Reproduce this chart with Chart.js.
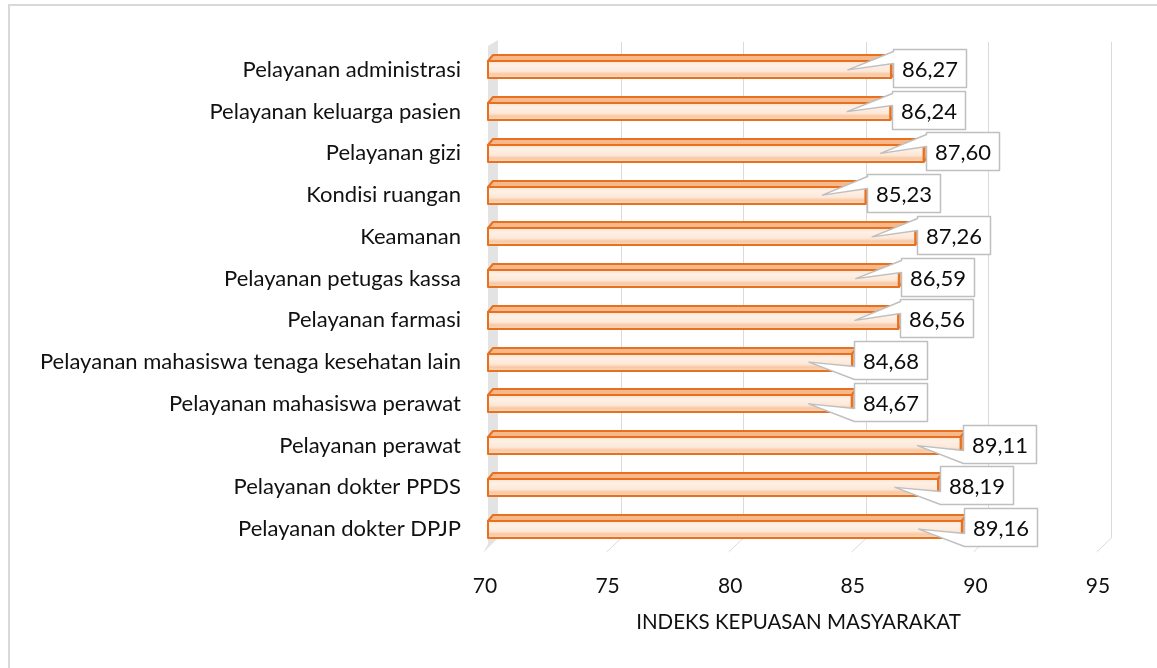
<!DOCTYPE html>
<html>
<head>
<meta charset="utf-8">
<script src="https://cdn.jsdelivr.net/npm/chart.js@4.4.0/dist/chart.umd.min.js"></script>
<style>
  html, body { margin: 0; padding: 0; background: #fff; }
  #wrap { width: 1157px; height: 668px; }
</style>
</head>
<body>
<div id="wrap"><canvas id="ikmChart" width="1157" height="668"></canvas></div>
<script>
const categories = [
    'Pelayanan administrasi',
    'Pelayanan keluarga pasien',
    'Pelayanan gizi',
    'Kondisi ruangan',
    'Keamanan',
    'Pelayanan petugas kassa',
    'Pelayanan farmasi',
    'Pelayanan mahasiswa tenaga kesehatan lain',
    'Pelayanan mahasiswa perawat',
    'Pelayanan perawat',
    'Pelayanan dokter PPDS',
    'Pelayanan dokter DPJP'
];
const scores = [86.27, 86.24, 87.60, 85.23, 87.26, 86.59, 86.56, 84.68, 84.67, 89.11, 88.19, 89.16];
const axisTicks = [70, 75, 80, 85, 90, 95];
const axisTitle = 'INDEKS KEPUASAN MASYARAKAT';

const FONT = 'Lato';
const TEXT = '#111111';
const ORANGE = '#e8711f';

// light frame around the whole chart
const framePlugin = {
    id: 'frame',
    beforeDraw(chart) {
        const { ctx } = chart;
        ctx.save();
        ctx.strokeStyle = '#d9d9d9';
        ctx.lineWidth = 2;
        ctx.strokeRect(9, 5, chart.width + 20, chart.height + 20);
        ctx.restore();
    }
};

// fake 3d look: back wall grid, side wall, boxed bars and callout labels
const bars3dPlugin = {
    id: 'bars3d',
    afterDatasetsDraw(chart) {
        const { ctx, chartArea: area } = chart;
        const x = chart.scales.x;
        const base = x.getPixelForValue(axisTicks[0]);
        ctx.save();

        // back wall grid lines with floor slant
        ctx.strokeStyle = '#dadada';
        ctx.lineWidth = 1;
        axisTicks.slice(1).forEach(v => {
            const px = Math.round(x.getPixelForValue(v) + 6) + 0.5;
            ctx.beginPath();
            ctx.moveTo(px, area.top - 7);
            ctx.lineTo(px, area.bottom - 12);
            ctx.lineTo(px - 15, area.bottom + 2);
            ctx.stroke();
        });

        // side wall
        ctx.fillStyle = '#e3e3e3';
        ctx.beginPath();
        ctx.moveTo(base - 4, area.top - 3);
        ctx.lineTo(base + 6, area.top - 9);
        ctx.lineTo(base + 6, area.bottom - 12);
        ctx.lineTo(base - 9, area.bottom + 3);
        ctx.lineTo(base - 4, area.bottom - 6);
        ctx.closePath();
        ctx.fill();

        const meta = chart.getDatasetMeta(0);
        const dx = 5, dy = 6;

        meta.data.forEach(bar => {
            const h = bar.height;
            const top = Math.round(bar.y - h / 2);
            const bot = Math.round(bar.y + h / 2);
            const left = base - 4;
            const right = bar.x;

            ctx.lineJoin = 'round';
            ctx.strokeStyle = ORANGE;
            ctx.lineWidth = 2;

            // top face
            ctx.beginPath();
            ctx.moveTo(left, top);
            ctx.lineTo(left + dx, top - dy);
            ctx.lineTo(right + dx, top - dy);
            ctx.lineTo(right, top);
            ctx.closePath();
            ctx.fillStyle = '#f7b98c';
            ctx.fill();
            ctx.stroke();

            // end face
            ctx.beginPath();
            ctx.moveTo(right, top);
            ctx.lineTo(right + dx, top - dy);
            ctx.lineTo(right + dx, bot - dy);
            ctx.lineTo(right, bot);
            ctx.closePath();
            ctx.fillStyle = '#f4a66c';
            ctx.fill();
            ctx.stroke();

            // front face
            const g = ctx.createLinearGradient(0, top, 0, bot);
            g.addColorStop(0, '#fde3cf');
            g.addColorStop(0.25, '#fef0e6');
            g.addColorStop(0.6, '#fde8d8');
            g.addColorStop(0.78, '#f9c7a2');
            g.addColorStop(1, '#fcdcc4');
            ctx.fillStyle = g;
            ctx.fillRect(left, top, right - left, bot - top);
            ctx.strokeRect(left, top, right - left, bot - top);
        });

        // callout labels
        ctx.font = `22px ${FONT}`;
        ctx.textAlign = 'center';
        ctx.textBaseline = 'middle';
        const mid = area.top + (area.bottom - area.top) * 0.58;
        meta.data.forEach((bar, i) => {
            const txt = scores[i].toFixed(2).replace('.', ',');
            const w = Math.round(ctx.measureText(txt).width + 17);
            const bh = 38;
            const bx = Math.round(bar.x + 2) + 0.5;
            const by = Math.round(bar.y - 2 - bh / 2) + 0.5;
            const tipX = bar.x - 43;
            const tipY = bar.y;
            const upper = bar.y < mid;
            const w1 = upper ? by + 2 : by + bh - 13;
            const w2 = upper ? by + 14 : by + bh;

            ctx.beginPath();
            ctx.moveTo(bx, by);
            ctx.lineTo(bx + w, by);
            ctx.lineTo(bx + w, by + bh);
            ctx.lineTo(bx, by + bh);
            ctx.lineTo(bx, w2);
            ctx.lineTo(tipX, tipY);
            ctx.lineTo(bx, w1);
            ctx.closePath();
            ctx.fillStyle = '#ffffff';
            ctx.fill();
            ctx.strokeStyle = '#bfbfbf';
            ctx.lineWidth = 1.5;
            ctx.stroke();

            ctx.fillStyle = '#0d0d0d';
            ctx.fillText(txt, bx + w / 2, by + bh / 2 + 1);
        });

        ctx.restore();
    }
};

const ctx = document.getElementById('ikmChart').getContext('2d');
new Chart(ctx, {
    type: 'bar',
    data: {
        labels: categories,
        datasets: [{
            data: scores,
            backgroundColor: 'rgba(0,0,0,0)',
            borderWidth: 0,
            categoryPercentage: 1,
            barPercentage: 0.41
        }]
    },
    options: {
        indexAxis: 'y',
        responsive: false,
        animation: false,
        layout: { padding: { top: 49, right: 52, left: 0, bottom: 0 } },
        plugins: {
            legend: { display: false },
            tooltip: { enabled: false }
        },
        scales: {
            x: {
                min: axisTicks[0],
                max: axisTicks[axisTicks.length - 1],
                afterBuildTicks: (s) => { s.ticks = axisTicks.map(v => ({ value: v })); },
                afterFit: (s) => { s.height = 118; },
                ticks: {
                    labelOffset: -7,
                    padding: 16,
                    color: TEXT,
                    font: { family: FONT, size: 21 }
                },
                grid: { display: false },
                border: { display: false },
                title: {
                    display: true,
                    text: axisTitle,
                    color: TEXT,
                    font: { family: FONT, size: 20.5 },
                    padding: { top: 0, bottom: 33 }
                }
            },
            y: {
                afterFit: (s) => { s.width = 492; },
                ticks: {
                    padding: 23,
                    color: TEXT,
                    font: { family: FONT, size: 22 }
                },
                grid: { display: false },
                border: { display: false }
            }
        }
    },
    plugins: [framePlugin, bars3dPlugin]
});
</script>
</body>
</html>
